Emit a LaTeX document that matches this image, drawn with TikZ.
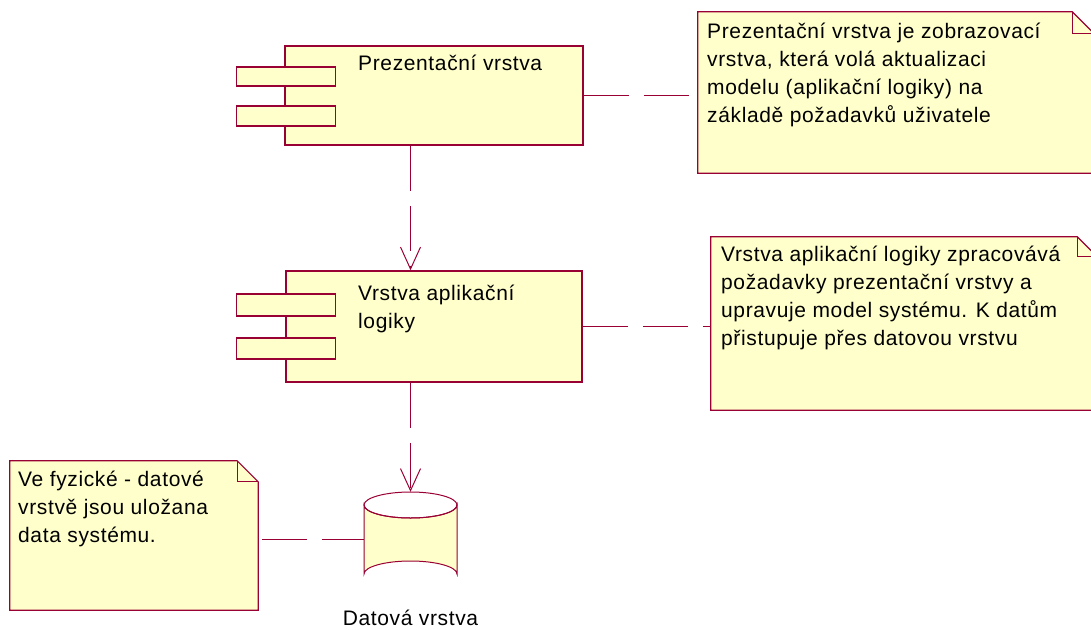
\documentclass[tikz,border=0pt]{standalone}
\usepackage{fontspec}
\setmainfont{Liberation Sans}[LetterSpace=3]
\usetikzlibrary{arrows.meta,calc}
\definecolor{umlred}{RGB}{153,0,51}
\definecolor{umlfill}{RGB}{255,255,204}

\tikzset{
  body/.style={draw=umlred, fill=umlfill, line width=1.5pt, rectangle, inner sep=0pt},
  port/.style={body, minimum width=99pt},
  area/.style={rectangle, inner sep=0pt},
  txt/.style={inner sep=0pt, anchor=north west, align=left, font=\fontsize{21}{28}\selectfont},
  link/.style={draw=umlred, line width=1pt, dash pattern=on 45pt off 15pt},
  dep/.style={link, -{Straight Barb[length=22pt,width=20pt]}},
  notepath/.style={draw=umlred, fill=umlfill, line width=1.2pt, line join=miter},
  cyl/.style={draw=umlred, fill=umlfill, line width=1pt},
}

% note outline with a folded top-right corner
\newcommand\foldnote[2]{%
  \draw[notepath] (#1.north west) -- ($(#1.north east)+(-#2,0)$)
    -- ($(#1.north east)+(0,#2)$) -- (#1.south east) -- (#1.south west) -- cycle;
  \draw[notepath, fill=none] ($(#1.north east)+(-#2,0)$)
    -- ($(#1.north east)+(-#2,#2)$) -- ($(#1.north east)+(0,#2)$);}

\begin{document}
\begin{tikzpicture}[x=1pt,y=-1pt]
\useasboundingbox (0,0) rectangle (1091,629);

% notes
\node[area, minimum width=396pt, minimum height=161pt] (n1) at (896,92.5) {};
\foldnote{n1}{22}
\node[area, minimum width=386pt, minimum height=173pt] (n2) at (904,323.5) {};
\foldnote{n2}{20}
\node[area, minimum width=248pt, minimum height=149pt] (n3) at (134,535.5) {};
\foldnote{n3}{21}

\node[txt] (t1) at (707,18) {\rule{0pt}{20pt}Prezentační vrstva je zobrazovací\\vrstva, která volá aktualizaci\\modelu (aplikační logiky) na\\základě požadavků uživatele};
\node[txt] (t2) at (721,241) {\rule{0pt}{20pt}Vrstva aplikační logiky zpracovává\\požadavky prezentační vrstvy a\\upravuje model systému. K datům\\přistupuje přes datovou vrstvu};
\node[txt] (t3) at (18,466) {\rule{0pt}{20pt}Ve fyzické - datové\\vrstvě jsou uložana\\data systému.};

% components
\node[body, minimum width=298pt, minimum height=99pt] (c1) at (434,95.5) {};
\node[port, minimum height=19pt] (c1a) at (286,76.5) {};
\node[port, minimum height=20pt] (c1b) at (286,116) {};
\node[txt] (c1t) at (358,50) {\rule{0pt}{20pt}Prezentační vrstva};

\node[body, minimum width=296pt, minimum height=111pt] (c2) at (434,326.5) {};
\node[port, minimum height=22pt] (c2a) at (286,305) {};
\node[port, minimum height=21pt] (c2b) at (286,348.5) {};
\node[txt] (c2t) at (358,280) {\rule{0pt}{20pt}Vrstva aplikační\\logiky};

% database
\node[area, minimum width=93pt, minimum height=95pt] (db) at (410.5,539.5) {};
\path[cyl] (364,505) -- (364,574)
  arc[start angle=180, end angle=360, x radius=46.5, y radius=13]
  -- (457,505)
  arc[start angle=0, end angle=180, x radius=46.5, y radius=13] -- cycle;
\draw[cyl, fill=none] (410.5,505) ellipse [x radius=46.5, y radius=13];
\node[anchor=base, inner sep=0pt, font=\fontsize{21}{28}\selectfont] (dbl) at (410.5,625) {Datová vrstva};

% connectors
\draw[link] (c1.east) -- (c1.east -| n1.west);
\draw[link] (c2.east) -- (c2.east -| n2.west);
\draw[link] ($(db.west -| n3.east)+(4,0)$) -- (db.west);
\draw[dep] (c1.south -| db.north) -- (c2.north -| db.north);
\draw[dep] (c2.south -| db.north) -- (db.north);
\end{tikzpicture}
\end{document}
